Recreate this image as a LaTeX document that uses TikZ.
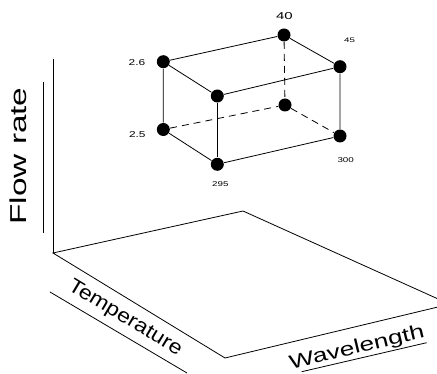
\documentclass[tikz,border=0pt]{standalone}
\usepackage{fontspec}
\setmainfont{Liberation Sans}
\newcommand\mylab[3]{\fontsize{#1}{#1}\selectfont\scalebox{#2}[1]{#3}}
\begin{document}
\begin{tikzpicture}[x=1pt,y=-1pt,line width=0.8pt,
  dot/.style={circle,fill=black,inner sep=0pt,minimum size=13pt},
  lbl/.style={inner sep=0pt},
  hid/.style={dash pattern=on 7pt off 5pt}]
\useasboundingbox (0,0) rectangle (437,374);
\clip (0,0) rectangle (437,374);
% floor and vertical axis
\coordinate (o) at (53,253);
\coordinate (top) at (53,59);
\coordinate (back) at (243,211);
\coordinate (right) at (449.7,304.2);
\coordinate (front) at (225,358);
\draw (top) -- (o);
\draw (o) -- (back) -- (right) -- (front) -- cycle;
% axis labels with underlines
\node[lbl,rotate=90] (flow) at (18.5,156) {\mylab{23}{1.45}{Flow rate}};
\coordinate (f1) at (43,82); \coordinate (f2) at (43,233);
\draw (f1) -- (f2);
\node[lbl,rotate=-31] (temp) at (125,318.3) {\mylab{20}{1.15}{Temperature}};
\coordinate (t1) at (50,292); \coordinate (t2) at (187,373);
\draw (t1) -- (t2);
\node[lbl,rotate=13.5] (wave) at (357,348.3) {\mylab{19.5}{1.35}{Wavelength}};
\coordinate (w1) at (301.7,371.7); \coordinate (w2) at (426.7,342.7);
\draw (w1) -- (w2);
% cube points
\node[dot] (a) at (163.3,61.7) {};
\node[dot] (b) at (284,35) {};
\node[dot] (c) at (340,66.7) {};
\node[dot] (d) at (217.3,96) {};
\node[dot] (e) at (163.3,129.5) {};
\node[dot] (f) at (285,105) {};
\node[dot] (g) at (340,136) {};
\node[dot] (h) at (217.3,164.3) {};
\draw (a) -- (b) -- (c) -- (d) -- (a) -- (e) -- (h) -- (g) -- (c);
\draw (d) -- (h);
\draw[hid] (b) -- (f);
\draw[hid] (e) -- (f);
\draw[hid] (f) -- (g);
% point labels
\node[lbl] (l40) at (284.5,15.7) {\mylab{10}{1.5}{40}};
\node[lbl] (l45) at (349.5,40) {\mylab{6.5}{1.5}{45}};
\node[lbl] (l26) at (137,62.3) {\mylab{8.5}{1.4}{2.6}};
\node[lbl] (l25) at (137.3,135) {\mylab{8.5}{1.4}{2.5}};
\node[lbl] (l300) at (345.7,160) {\mylab{7}{1.4}{300}};
\node[lbl] (l295) at (220.3,184.3) {\mylab{7}{1.4}{295}};
\end{tikzpicture}
\end{document}
